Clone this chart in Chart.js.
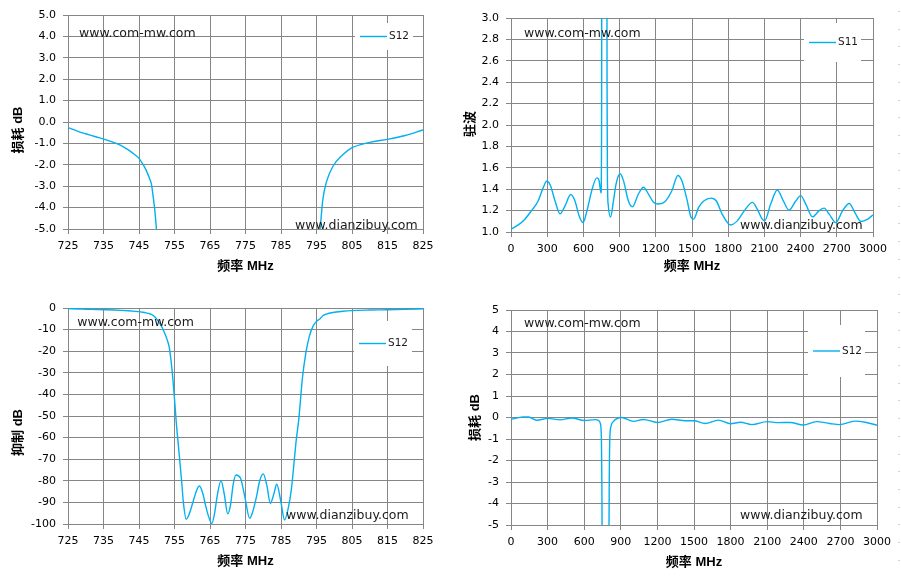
<!DOCTYPE html>
<html>
<head>
<meta charset="utf-8">
<script src="https://cdn.jsdelivr.net/npm/chart.js@4.4.1/dist/chart.umd.min.js"></script>
<style>
  body { margin: 0; background: #fff; }
  #page { position: relative; width: 901px; height: 579px; overflow: hidden; background: #fff; }
  canvas { position: absolute; }
  #edge { position: absolute; left: 898px; top: 11px; width: 2px; height: 560px;
          background: repeating-linear-gradient(to bottom, #d4d4d4 0 1px, transparent 1px 17.7px); }
</style>
</head>
<body>
<div id="page">
  <canvas id="c1" width="450" height="290" style="left:0;top:0"></canvas>
  <canvas id="c2" width="451" height="290" style="left:450px;top:0"></canvas>
  <canvas id="c3" width="450" height="289" style="left:0;top:290px"></canvas>
  <canvas id="c4" width="451" height="289" style="left:450px;top:290px"></canvas>
  <div id="edge"></div>
</div>
<script>
// tick values
const narrowFreqTicks = [725, 735, 745, 755, 765, 775, 785, 795, 805, 815, 825];
const wideFreqTicks = [0, 300, 600, 900, 1200, 1500, 1800, 2100, 2400, 2700, 3000];
const lossTicks = [-5, -4, -3, -2, -1, 0, 1, 2, 3, 4, 5];
const vswrTicks = [1.0, 1.2, 1.4, 1.6, 1.8, 2.0, 2.2, 2.4, 2.6, 2.8, 3.0];
const rejectTicks = [-100, -90, -80, -70, -60, -50, -40, -30, -20, -10, 0];

// S12, 725-825 MHz
const narrowFreq = [725, 728, 730, 733, 735, 738, 740, 742, 744, 745, 746, 747, 748, 748.5, 749, 749.5,
  750, 751, 752, 753, 753.5, 754, 754.5, 755, 755.5, 756, 757, 757.5, 758.3, 759, 760, 761, 762, 763,
  763.6, 764.5, 765.5, 766.3, 767, 768.1, 769, 770, 770.8, 771.5, 772.3, 773.6, 774.8, 776.2, 777,
  778.1, 779, 780, 781, 782, 783, 783.8, 785, 786, 787, 787.9, 789, 789.3, 790, 791, 792, 793, 794,
  795, 796, 796.8, 797.8, 799.6, 802.4, 804.8, 810, 815, 820, 825];
const narrowS12 = [-0.26, -0.45, -0.55, -0.7, -0.8, -0.96, -1.1, -1.3, -1.55, -1.7, -1.95, -2.25, -2.65, -2.9, -3.5, -4.2,
  -5.2, -7.5, -10.8, -15, -18, -24, -32, -42, -53, -62, -80, -90, -97.8, -96, -91, -85.5, -82.4, -86,
  -90.4, -96, -99.7, -95, -87.3, -79.9, -86, -95.3, -91, -82, -77.3, -78.8, -87.3, -97.4, -94.5,
  -87.3, -80, -76.8, -82, -90.4, -86, -81.6, -90, -98.1, -93, -84.2, -66, -61, -51.7, -33, -20.8, -13, -8.5,
  -6.2, -5, -3.6, -2.8, -2.08, -1.53, -1.22, -0.95, -0.81, -0.63, -0.37];

// S11 VSWR, 0-3000 MHz
const s11Freq = [0, 60, 115, 170, 225, 265, 296, 325, 365, 406, 448, 495, 530, 565, 597, 630, 670, 711,
  730, 746, 751, 753, 794, 796, 799, 806, 825, 849, 871, 904, 932, 973, 1006, 1056, 1098, 1139, 1181,
  1222, 1277, 1333, 1383, 1416, 1457, 1493, 1513, 1555, 1597, 1658, 1702, 1750, 1819, 1875, 1944, 2000,
  2041, 2082, 2102, 2152, 2207, 2257, 2304, 2360, 2401, 2443, 2498, 2554, 2595, 2637, 2692, 2748, 2803,
  2850, 2900, 2956, 3000];
const s11Vswr = [1.025, 1.066, 1.12, 1.2, 1.29, 1.41, 1.475, 1.44, 1.29, 1.17, 1.245, 1.35, 1.29, 1.15, 1.088, 1.2, 1.39, 1.506,
  1.48, 1.365, 2.2, 4.0, 4.0, 2.4, 1.5, 1.25, 1.14, 1.29, 1.45, 1.545, 1.48, 1.29, 1.236, 1.355, 1.418, 1.355, 1.277,
  1.261, 1.286, 1.386, 1.528, 1.48, 1.31, 1.135, 1.12, 1.23, 1.29, 1.317, 1.29, 1.167, 1.066, 1.104, 1.214, 1.277,
  1.214, 1.12, 1.104, 1.261, 1.393, 1.29, 1.204, 1.29, 1.34, 1.261, 1.142, 1.2, 1.223, 1.167, 1.088, 1.2, 1.267,
  1.182, 1.098, 1.12, 1.16];

// S12, 0-3000 MHz
const s12WideFreq = [0, 50, 100, 145, 211, 306, 402, 498, 602, 689, 720, 733, 741, 744, 747, 755, 795, 803,
  806, 810, 820, 840, 870, 905, 1004, 1086, 1200, 1318, 1428, 1500, 1591, 1700, 1800, 1880, 1975, 2100,
  2190, 2290, 2395, 2504, 2613, 2695, 2818, 2913, 3000];
const s12WideLoss = [-0.09, -0.02, 0.03, 0.02, -0.125, -0.04, -0.11, -0.02, -0.14, -0.1, -0.15, -0.3, -1.0, -2.5, -5.5, -30, -30, -5.5,
  -2.5, -1.0, -0.4, -0.18, -0.05, 0.0, -0.18, -0.09, -0.23, -0.08, -0.15, -0.15, -0.28, -0.12, -0.29, -0.22, -0.33, -0.19,
  -0.24, -0.23, -0.35, -0.19, -0.28, -0.33, -0.17, -0.23, -0.36];

const GRID = '#868686';
const LINE = '#00b0f0';
const tickFont = { family: '"DejaVu Sans"', size: 11 };
const titleFont = { family: '"Liberation Sans", "Noto Sans CJK SC"', size: 13, weight: 'bold' };

// legend box, watermarks and rotated y title, drawn over the plot
const decor = {
  id: 'decor',
  afterDatasetsDraw(chart, args, opts) {
    const ctx = chart.ctx;
    const ds = chart.data.datasets[0];
    const b = opts.legend;
    const cy = b.y + b.h / 2;
    ctx.save();
    ctx.fillStyle = '#fff';
    ctx.fillRect(b.x, b.y, b.w, b.h);
    ctx.strokeStyle = ds.borderColor;
    ctx.lineWidth = ds.borderWidth;
    ctx.beginPath();
    ctx.moveTo(b.x + 5, cy);
    ctx.lineTo(b.x + 32, cy);
    ctx.stroke();
    ctx.fillStyle = '#1a1a1a';
    ctx.font = '10.5px "DejaVu Sans"';
    ctx.textAlign = 'left';
    ctx.textBaseline = 'middle';
    ctx.fillText(ds.label, b.x + 34, cy);

    ctx.font = '12.5px "DejaVu Sans"';
    ctx.textBaseline = 'alphabetic';
    opts.marks.forEach(m => ctx.fillText(m.text, m.x, m.y));

    ctx.fillStyle = '#000';
    ctx.translate(opts.yTitle.x, opts.yTitle.y);
    ctx.rotate(-Math.PI / 2);
    ctx.font = 'bold 13px "Liberation Sans", "Noto Sans CJK SC"';
    ctx.textAlign = 'center';
    ctx.textBaseline = 'middle';
    ctx.fillText(opts.yTitle.text, 0, 0);
    ctx.restore();
  }
};

function buildChart(id, o) {
  return new Chart(document.getElementById(id), {
    type: 'line',
    data: {
      datasets: [{
        label: o.label,
        data: o.xs.map((x, i) => ({ x: x, y: o.ys[i] })),
        borderColor: LINE,
        borderWidth: 1.4,
        pointRadius: 0,
        cubicInterpolationMode: 'monotone',
        fill: false
      }]
    },
    options: {
      responsive: false,
      animation: false,
      events: [],
      layout: { padding: { left: 0, top: o.top, right: o.right, bottom: 0 } },
      plugins: {
        legend: { display: false },
        tooltip: { enabled: false },
        decor: {
          legend: o.legend,
          yTitle: o.yTitle,
          marks: [
            { text: 'www.com-mw.com', x: o.marks[0][0], y: o.marks[0][1] },
            { text: 'www.dianzibuy.com', x: o.marks[1][0], y: o.marks[1][1] }
          ]
        }
      },
      scales: {
        x: {
          type: 'linear',
          min: o.xTicks[0],
          max: o.xTicks[o.xTicks.length - 1],
          afterBuildTicks: s => { s.ticks = o.xTicks.map(v => ({ value: v })); },
          afterFit: s => { s.height = o.xh; s.paddingLeft = 0; s.paddingRight = 0; },
          grid: { color: GRID, tickLength: 5 },
          border: { color: GRID },
          ticks: { padding: 6, color: '#000', font: tickFont, maxRotation: 0, autoSkip: false,
                   callback: v => String(v) },
          title: { display: true, text: '频率 MHz', color: '#000', font: titleFont,
                   padding: { top: 0, bottom: o.xTitlePad } }
        },
        y: {
          min: o.yTicks[0],
          max: o.yTicks[o.yTicks.length - 1],
          afterBuildTicks: s => { s.ticks = o.yTicks.map(v => ({ value: v })); },
          afterFit: s => { s.width = o.left; s.paddingTop = 0; s.paddingBottom = 0; },
          grid: { color: GRID, tickLength: 5 },
          border: { color: GRID },
          ticks: { padding: 7, color: '#000', font: tickFont, autoSkip: false,
                   callback: v => o.fmt(v) }
        }
      }
    },
    plugins: [decor]
  });
}

buildChart('c1', {
  label: 'S12', xs: narrowFreq, ys: narrowS12,
  xTicks: narrowFreqTicks, yTicks: lossTicks, fmt: v => v.toFixed(1),
  left: 68, top: 15, right: 27, xh: 61, xTitlePad: 15.5,
  legend: { x: 355, y: 23, w: 58, h: 27 },
  yTitle: { text: '损耗 dB', x: 18.3, y: 130 },
  marks: [[79, 36.7], [295, 229]]
});

buildChart('c2', {
  label: 'S11', xs: s11Freq, ys: s11Vswr,
  xTicks: wideFreqTicks, yTicks: vswrTicks, fmt: v => v.toFixed(1),
  left: 61, top: 18, right: 28, xh: 58, xTitlePad: 15.5,
  legend: { x: 354, y: 23, w: 57, h: 39 },
  yTitle: { text: '驻波', x: 20.8, y: 124 },
  marks: [[74, 36.7], [290, 229.3]]
});

buildChart('c3', {
  label: 'S12', xs: narrowFreq, ys: narrowS12,
  xTicks: narrowFreqTicks, yTicks: rejectTicks, fmt: v => String(v),
  left: 68, top: 18, right: 27, xh: 55, xTitlePad: 9.5,
  legend: { x: 354, y: 31, w: 58, h: 45 },
  yTitle: { text: '抑制 dB', x: 18.3, y: 142.5 },
  marks: [[77.3, 35.7], [286, 229.3]]
});

buildChart('c4', {
  label: 'S12', xs: s12WideFreq, ys: s12WideLoss,
  xTicks: wideFreqTicks, yTicks: lossTicks, fmt: v => String(v),
  left: 61, top: 20, right: 24, xh: 54, xTitlePad: 8.5,
  legend: { x: 358, y: 35, w: 57, h: 52 },
  yTitle: { text: '损耗 dB', x: 25, y: 127.5 },
  marks: [[74, 36.7], [290, 229.3]]
});
</script>
</body>
</html>
